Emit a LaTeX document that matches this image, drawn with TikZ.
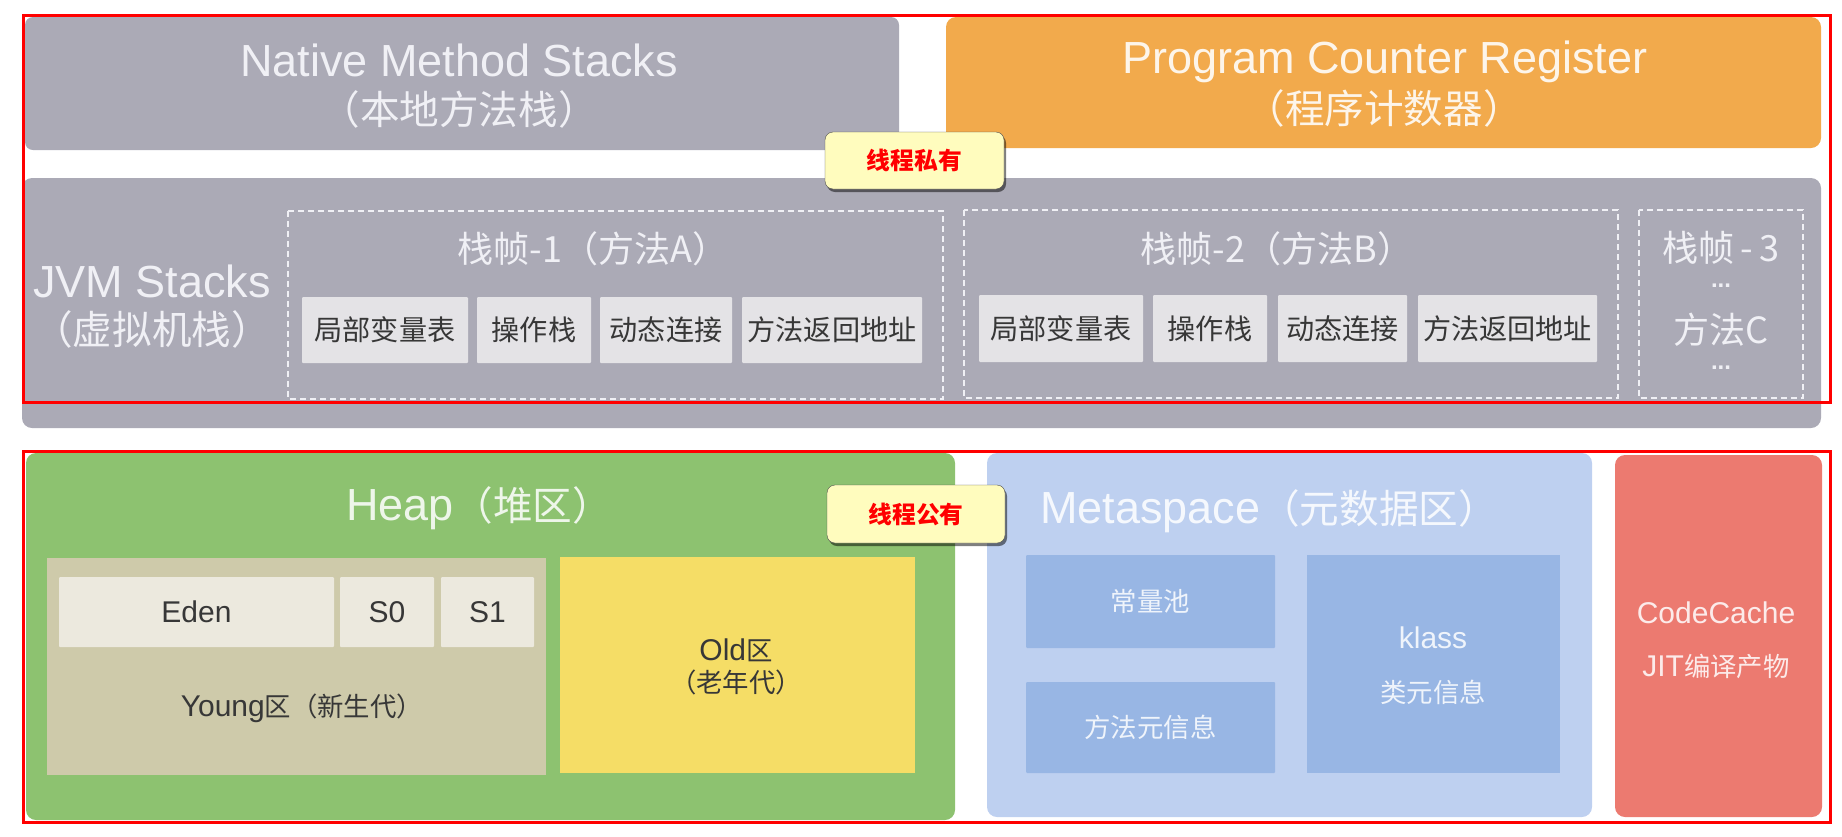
\documentclass[tikz,border=0pt]{standalone}
\usepackage{fontspec}
\setmainfont{Liberation Sans}
\newfontfamily\cjk[Scale=0.88]{Noto Sans CJK SC}
\newcommand{\zh}[1]{{\cjk #1}}
\usetikzlibrary{positioning,shadows}
\definecolor{Gr}{RGB}{171,170,182}
\definecolor{Or}{RGB}{242,170,76}
\definecolor{Cl}{RGB}{228,227,230}
\definecolor{Gn}{RGB}{141,194,112}
\definecolor{Yg}{RGB}{206,202,170}
\definecolor{Ce}{RGB}{236,233,222}
\definecolor{Yw}{RGB}{245,221,102}
\definecolor{Bl}{RGB}{190,208,240}
\definecolor{Bd}{RGB}{152,182,228}
\definecolor{Rd}{RGB}{236,122,112}
\definecolor{Nt}{RGB}{255,252,190}
\definecolor{Tx}{RGB}{240,240,245}
\definecolor{Dk}{RGB}{55,55,55}
\tikzset{
  big/.style={text=Tx, font=\fontsize{45}{50}\selectfont, inner sep=0pt},
  mid/.style={text=Tx, font=\fontsize{41}{44}\selectfont, inner sep=0pt},
  small/.style={font=\fontsize{30}{34}\selectfont, inner sep=0pt},
  cell/.style={fill=Cl, text=Dk, font=\fontsize{32}{36}\selectfont, inner sep=0pt, rounded corners=1pt},
  frame/.style={draw=Tx, line width=1.6pt, dash pattern=on 6pt off 4pt},
  note/.style={draw=black!70, fill=Nt, rounded corners=8pt, text=red, inner sep=0pt,
    font=\fontsize{27}{30}\selectfont\cjk\bfseries,
    drop shadow={shadow xshift=2pt, shadow yshift=-3pt, fill=black, opacity=0.5}}
}
\begin{document}
\begin{tikzpicture}[x=1pt,y=-1pt]
  \useasboundingbox (0,0) rectangle (1842,836);

  % zona privada de cada hilo
  \fill[Gr, rounded corners=8] (25,17) rectangle (899,150);
  \fill[Or, rounded corners=10] (946,17) rectangle (1821,148);
  \fill[Gr, rounded corners=10] (22,178) rectangle (1821,428);

  \node[big, anchor=base] (nms) at (459,76) {Native Method Stacks};
  \node[big, anchor=base] (nmszh) at (459,124) {\zh{（本地方法栈）}};
  \node[big, anchor=base, text=white!88!Or] (pcr) at (1385,73) {Program Counter Register};
  \node[big, anchor=base, text=white!88!Or] (pcrzh) at (1384,123) {\zh{（程序计数器）}};
  \node[big, anchor=base] (jvm) at (152,297) {JVM Stacks};
  \node[big, anchor=base] (jvmzh) at (152,344) {\zh{（虚拟机栈）}};

  % marcos de los tres frames
  \draw[frame] (288,211) rectangle (943,399);
  \draw[frame] (964,210) rectangle (1618,398);
  \draw[frame] (1639,210) rectangle (1803,398);

  \node[mid, anchor=base] (f1) at (593,262) {\zh{栈帧-1（方法A）}};
  \node[mid, anchor=base] (f2) at (1277,262) {\zh{栈帧-2（方法B）}};
  \node[mid, anchor=base] (f3) at (1721,261) {\zh{栈帧\,-\,3}};
  \node[small, text=Tx, font=\fontsize{24}{24}\selectfont\bfseries] (d1) at (1721,286) {...};
  \node[mid, anchor=base] (f3m) at (1721,343) {\zh{方法C}};
  \node[small, text=Tx, font=\fontsize{24}{24}\selectfont\bfseries] (d2) at (1721,368) {...};

  % celdas de cada frame
  \foreach \x/\w/\t [count=\i] in {385/166/局部变量表, 534/114/操作栈, 666/132/动态连接, 832/180/方法返回地址}
    \node[cell, minimum width=\w pt, minimum height=66pt] (a\i) at (\x,330) {\zh{\t}};
  \foreach \x/\w/\t [count=\i] in {1061/164/局部变量表, 1210/114/操作栈, 1342.5/129/动态连接, 1507.5/179/方法返回地址}
    \node[cell, minimum width=\w pt, minimum height=67pt] (b\i) at (\x,328.5) {\zh{\t}};

  % zona compartida
  \fill[Gn, rounded corners=10] (26,453) rectangle (955,820);
  \node[big, anchor=base, text=white!85!Gn] (heap) at (479,520) {Heap\zh{（堆区）}};
  \fill[Yg] (47,558) rectangle (546,775);
  \node[cell, small, fill=Ce, minimum width=275pt, minimum height=70pt] (eden) at (196.5,612) {Eden};
  \node[cell, small, fill=Ce, minimum width=94pt, minimum height=70pt] (s0) at (387,612) {S0};
  \node[cell, small, fill=Ce, minimum width=93pt, minimum height=70pt] (s1) at (487.5,612) {S1};
  \node[small, anchor=base, text=Dk] (young) at (302,716) {Young\zh{区（新生代）}};
  \fill[Yw] (560,557) rectangle (915,773);
  \node[small, anchor=base, text=Dk] (old) at (736,660) {Old\zh{区}};
  \node[small, anchor=base, text=Dk] (oldzh) at (736,692) {\zh{（老年代）}};

  \fill[Bl, rounded corners=10] (987,453) rectangle (1592,817);
  \node[big, anchor=base, text=white!85!Bl] (meta) at (1269,523) {Metaspace\zh{（元数据区）}};
  \node[cell, small, fill=Bd, text=white!85!Bd, minimum width=249pt, minimum height=93pt] (pool) at (1150.5,601.5) {\zh{常量池}};
  \node[cell, small, fill=Bd, text=white!85!Bd, minimum width=249pt, minimum height=91pt] (mth) at (1150.5,727.5) {\zh{方法元信息}};
  \fill[Bd] (1307,555) rectangle (1560,773);
  \node[small, anchor=base, text=white!85!Bd] (kl) at (1433,648) {klass};
  \node[small, anchor=base, text=white!85!Bd] (klzh) at (1433,702) {\zh{类元信息}};

  \fill[Rd, rounded corners=10] (1615,455) rectangle (1822,817);
  \node[small, anchor=base, text=white!85!Rd] (cc) at (1716,623) {CodeCache};
  \node[small, anchor=base, text=white!85!Rd] (jit) at (1716,676) {JIT\zh{编译产物}};

  % recuadros rojos
  \draw[red, line width=3pt] (23,15) rectangle (1830,402);
  \draw[red, line width=3pt] (23,451) rectangle (1830,822);

  % notas
  \node[note, minimum width=179pt, minimum height=57pt] (priv) at (914.5,160.5) {线程私有};
  \node[note, minimum width=178pt, minimum height=58pt] (pub) at (916,514) {线程公有};
\end{tikzpicture}
\end{document}
